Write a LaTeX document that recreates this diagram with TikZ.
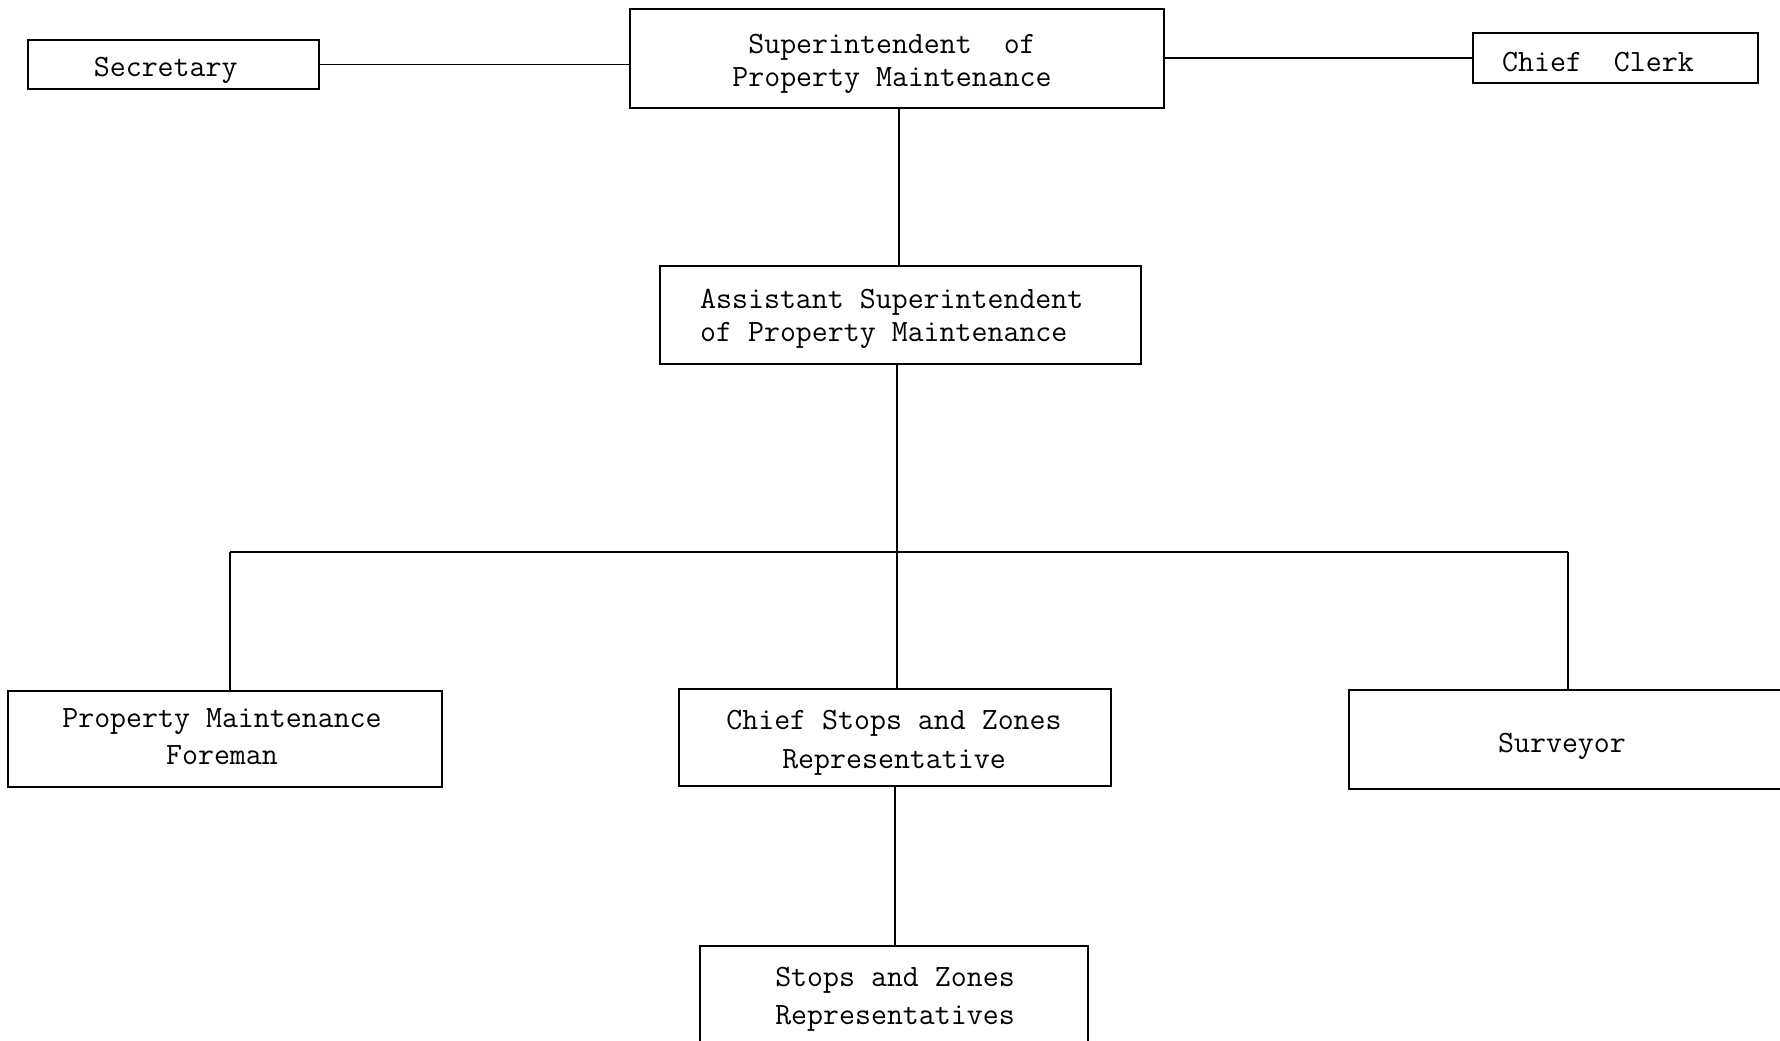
\documentclass[tikz,border=0pt]{standalone}
\usepackage{fontspec}
\begin{document}
\begin{tikzpicture}[x=1pt,y=-1pt,
  box/.style={draw, line width=1.5pt, inner sep=0pt},
  txt/.style={inner sep=0pt, align=center, font=\ttfamily\fontsize{31}{33}\selectfont},
  wide/.style={font=\ttfamily\fontsize{31}{38.6}\selectfont},
  mid/.style={font=\ttfamily\fontsize{31}{37.5}\selectfont},
  link/.style={line width=1.6pt}]
\useasboundingbox (0,0) rectangle (1780,1041);
% boxes
\node[box, minimum width=291pt, minimum height=49pt] (sec) at (173.5,64.5) {};
\node[box, minimum width=534pt, minimum height=99pt] (sup) at (897,58.5) {};
\node[box, minimum width=285pt, minimum height=50pt] (clerk) at (1615.5,58) {};
\node[box, minimum width=481pt, minimum height=98pt] (asst) at (900.5,315) {};
\node[box, minimum width=434pt, minimum height=96pt] (fore) at (225,739) {};
\node[box, minimum width=432pt, minimum height=97pt] (csz) at (895,737.5) {};
\node[box, minimum width=451pt, minimum height=99pt] (surv) at (1574.5,739.5) {};
\node[box, minimum width=388pt, minimum height=100pt] (szr) at (894,996) {};
% texts
\node[txt] (secT) at (165.7,70) {Secretary};
\node[txt] (supT) at (892,64.2) {Superintendent\ \ of\\Property Maintenance};
\node[txt] (clerkT) at (1598,62.5) {Chief\ \ Clerk};
\node[txt, align=left, anchor=west] (asstT) at (700,318.4) {Assistant Superintendent\\of Property Maintenance};
\node[txt, mid] (foreT) at (222,736.7) {Property Maintenance\\Foreman};
\node[txt, wide] (cszT) at (894,742.6) {Chief Stops and Zones\\Representative};
\node[txt] (survT) at (1562,746.3) {Surveyor};
\node[txt, wide] (szrT) at (895,999.4) {Stops and Zones\\Representatives};
% bus coordinates
\coordinate (busM) at (897,552);
\coordinate (busL) at (230,552);
\coordinate (busR) at (1568,552);
\coordinate (colA) at (899,0);
\coordinate (colC) at (895,0);
% connectors
\draw[link] (sec.east) -- (sec.east -| sup.west);
\draw[link] (sup.east |- clerk.west) -- (clerk.west);
\draw[link] (sup.south -| colA) -- (asst.north -| colA);
\draw[link] (asst.south -| busM) -- (csz.north -| busM);
\draw[link] (busL) -- (busR);
\draw[link] (busL) -- (fore.north -| busL);
\draw[link] (busR) -- (surv.north -| busR);
\draw[link] (csz.south -| colC) -- (szr.north -| colC);
\end{tikzpicture}
\end{document}
